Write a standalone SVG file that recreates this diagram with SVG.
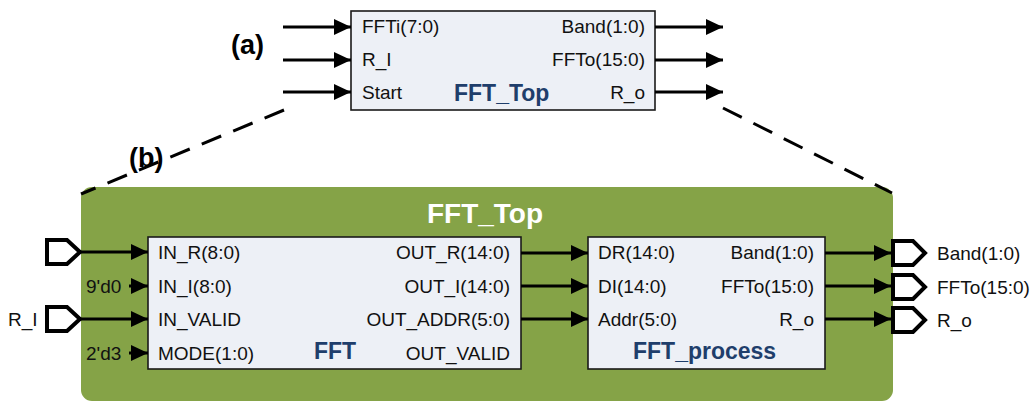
<svg xmlns="http://www.w3.org/2000/svg" width="1035" height="401" viewBox="0 0 1035 401">
  <defs>
    <style>
      .lbl { font-family: "Liberation Sans", Arial, sans-serif; font-size: 19px; fill: #111; }
      .end { text-anchor: end; }
      .title { font-family: "Liberation Sans", Arial, sans-serif; font-size: 23px; font-weight: bold; fill: #1F3E6B; }
      .tag { font-family: "Liberation Sans", Arial, sans-serif; font-size: 27px; font-weight: bold; fill: #000; }
      .box { fill: #EDF0F6; stroke: #1a1a1a; stroke-width: 1.6; }
      .wire { stroke: #000; stroke-width: 3; fill: none; }
      .port { fill: #fff; stroke: #000; stroke-width: 4; stroke-linejoin: miter; }
      .dash { stroke: #000; stroke-width: 3; stroke-dasharray: 21 13; fill: none; }
    </style>
    <marker id="arr" markerUnits="userSpaceOnUse" markerWidth="18" markerHeight="18" refX="17" refY="8" orient="auto">
      <path d="M0,0 L17,8 L0,16 Z" fill="#000"/>
    </marker>
  </defs>

  <!-- expanded top-level container -->
  <g id="fft-top-container">
    <rect x="81" y="187" width="812" height="214" rx="11" fill="#85A347"/>
    <text x="485" y="223" text-anchor="middle" font-family="Liberation Sans, Arial, sans-serif" font-size="28" font-weight="bold" fill="#fff">FFT_Top</text>
  </g>

  <!-- zoom guides from the symbol down to its contents -->
  <g id="guides">
    <line class="dash" x1="284" y1="110" x2="81" y2="194"/>
    <line class="dash" x1="723" y1="108" x2="892" y2="193"/>
  </g>

  <text class="tag" x="231" y="54">(a)</text>
  <text class="tag" x="129" y="167">(b)</text>

  <!-- symbol view -->
  <g id="fft-top-symbol">
    <rect class="box" x="351" y="11" width="304" height="99"/>
    <text class="lbl" x="362" y="33">FFTi(7:0)</text>
    <text class="lbl" x="362" y="66">R_I</text>
    <text class="lbl" x="362" y="99">Start</text>
    <text class="lbl end" x="645" y="33">Band(1:0)</text>
    <text class="lbl end" x="645" y="66">FFTo(15:0)</text>
    <text class="lbl end" x="645" y="99">R_o</text>
    <text class="title" x="454" y="101">FFT_Top</text>
  </g>

  <!-- FFT core -->
  <g id="fft">
    <rect class="box" x="148" y="237" width="373" height="132"/>
    <text class="lbl" x="158" y="259">IN_R(8:0)</text>
    <text class="lbl" x="158" y="293">IN_I(8:0)</text>
    <text class="lbl" x="158" y="326">IN_VALID</text>
    <text class="lbl" x="158" y="360">MODE(1:0)</text>
    <text class="lbl end" x="510" y="259">OUT_R(14:0)</text>
    <text class="lbl end" x="510" y="293">OUT_I(14:0)</text>
    <text class="lbl end" x="510" y="326">OUT_ADDR(5:0)</text>
    <text class="lbl end" x="510" y="360">OUT_VALID</text>
    <text class="title" x="314" y="359">FFT</text>
  </g>

  <!-- post-processing block -->
  <g id="fft-process">
    <rect class="box" x="588" y="237" width="237" height="132"/>
    <text class="lbl" x="598" y="259">DR(14:0)</text>
    <text class="lbl" x="598" y="293">DI(14:0)</text>
    <text class="lbl" x="598" y="326">Addr(5:0)</text>
    <text class="lbl end" x="814" y="259">Band(1:0)</text>
    <text class="lbl end" x="814" y="293">FFTo(15:0)</text>
    <text class="lbl end" x="814" y="326">R_o</text>
    <text class="title" x="633" y="359">FFT_process</text>
  </g>

  <!-- input ports -->
  <g id="in-fftl">
    <path class="port" d="M47,240 H67 L80,252 L67,264 H47 Z"/>
  </g>
  <g id="in-r-i">
    <path class="port" d="M47,307 H67 L80,319 L67,331 H47 Z"/>
    <text class="lbl" x="8" y="326">R_I</text>
  </g>
  <g id="const-in-i">
    <text class="lbl" x="86" y="293">9'd0</text>
  </g>
  <g id="const-mode">
    <text class="lbl" x="86" y="360">2'd3</text>
  </g>

  <!-- output ports -->
  <g id="out-band">
    <path class="port" d="M893,241 H913 L925,253 L913,265 H893 Z"/>
    <text class="lbl" x="937" y="260">Band(1:0)</text>
  </g>
  <g id="out-ffto">
    <path class="port" d="M893,275 H913 L925,287 L913,299 H893 Z"/>
    <text class="lbl" x="937" y="294">FFTo(15:0)</text>
  </g>
  <g id="out-r-o">
    <path class="port" d="M893,308 H913 L925,320 L913,332 H893 Z"/>
    <text class="lbl" x="937" y="327">R_o</text>
  </g>

  <!-- connectors -->
  <g id="connectors">
    <line class="wire" x1="283" y1="27" x2="351" y2="27" marker-end="url(#arr)"/>
    <line class="wire" x1="283" y1="60" x2="351" y2="60" marker-end="url(#arr)"/>
    <line class="wire" x1="283" y1="92" x2="351" y2="92" marker-end="url(#arr)"/>
    <line class="wire" x1="655" y1="27" x2="723" y2="27" marker-end="url(#arr)"/>
    <line class="wire" x1="655" y1="60" x2="723" y2="60" marker-end="url(#arr)"/>
    <line class="wire" x1="655" y1="92" x2="723" y2="92" marker-end="url(#arr)"/>

    <line class="wire" x1="80" y1="252" x2="148" y2="252" marker-end="url(#arr)"/>
    <line class="wire" x1="129" y1="286" x2="148" y2="286" marker-end="url(#arr)"/>
    <line class="wire" x1="80" y1="319" x2="148" y2="319" marker-end="url(#arr)"/>
    <line class="wire" x1="129" y1="353" x2="148" y2="353" marker-end="url(#arr)"/>

    <line class="wire" x1="521" y1="253" x2="588" y2="253" marker-end="url(#arr)"/>
    <line class="wire" x1="521" y1="286" x2="588" y2="286" marker-end="url(#arr)"/>
    <line class="wire" x1="521" y1="319" x2="588" y2="319" marker-end="url(#arr)"/>

    <line class="wire" x1="825" y1="253" x2="891" y2="253" marker-end="url(#arr)"/>
    <line class="wire" x1="825" y1="286" x2="891" y2="286" marker-end="url(#arr)"/>
    <line class="wire" x1="825" y1="319" x2="891" y2="319" marker-end="url(#arr)"/>
  </g>
</svg>
